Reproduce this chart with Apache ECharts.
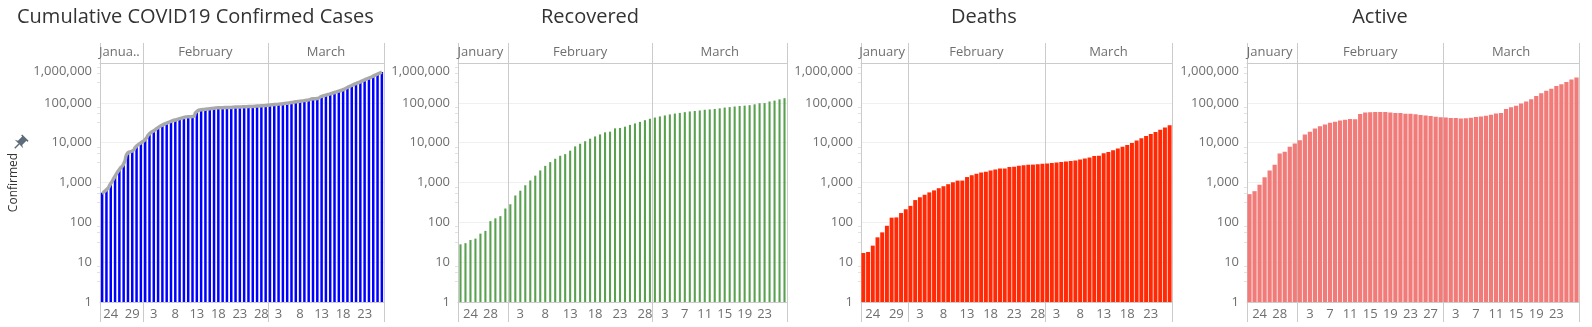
<!DOCTYPE html>
<html>
<head>
<meta charset="utf-8">
<title>Cumulative COVID19 cases</title>
<script src="https://cdn.jsdelivr.net/npm/echarts@6/dist/echarts.min.js"></script>
<style>
  html, body { margin: 0; padding: 0; background: #fff; }
  #main { width: 1592px; height: 327px; }
</style>
</head>
<body>
<div id="main"></div>
<script type="text/javascript">
// one bar per day, 22 Jan - 27 Mar 2020
var dates = [
  '2020-01-22','2020-01-23','2020-01-24','2020-01-25','2020-01-26','2020-01-27','2020-01-28','2020-01-29','2020-01-30','2020-01-31',
  '2020-02-01','2020-02-02','2020-02-03','2020-02-04','2020-02-05','2020-02-06','2020-02-07','2020-02-08','2020-02-09','2020-02-10',
  '2020-02-11','2020-02-12','2020-02-13','2020-02-14','2020-02-15','2020-02-16','2020-02-17','2020-02-18','2020-02-19','2020-02-20',
  '2020-02-21','2020-02-22','2020-02-23','2020-02-24','2020-02-25','2020-02-26','2020-02-27','2020-02-28','2020-02-29',
  '2020-03-01','2020-03-02','2020-03-03','2020-03-04','2020-03-05','2020-03-06','2020-03-07','2020-03-08','2020-03-09','2020-03-10',
  '2020-03-11','2020-03-12','2020-03-13','2020-03-14','2020-03-15','2020-03-16','2020-03-17','2020-03-18','2020-03-19','2020-03-20',
  '2020-03-21','2020-03-22','2020-03-23','2020-03-24','2020-03-25','2020-03-26','2020-03-27'
];

var confirmed = [
  555, 654, 941, 1434, 2118, 2927, 5578, 6166, 8234, 9927,
  12038, 16787, 19881, 23892, 27635, 30817, 34391, 37120, 40150, 42762,
  44802, 45221, 60368, 66885, 69030, 71224, 73258, 75136, 75639, 76197,
  76819, 78572, 78958, 79561, 80406, 81388, 82746, 84112, 86011,
  88369, 90306, 92840, 95120, 97886, 101801, 105847, 109821, 113590, 118620,
  125875, 128352, 145205, 156101, 167454, 181574, 197102, 214821, 242570, 272208,
  304507, 336953, 378231, 418041, 467653, 529591, 593291
];

var recovered = [
  28, 30, 36, 39, 52, 61, 107, 126, 143, 222,
  284, 472, 623, 852, 1124, 1487, 2011, 2616, 3244, 3946,
  4683, 5150, 6295, 8058, 9395, 10865, 12583, 14352, 16121, 18177,
  18890, 22886, 23394, 25227, 27905, 30384, 33277, 36711, 39782,
  42716, 45602, 48228, 51170, 53796, 55865, 58358, 60694, 62494, 64404,
  67003, 68324, 70251, 72624, 76034, 78088, 80840, 83312, 84975, 87420,
  91692, 97899, 98351, 107991, 113787, 122150, 130915
];

var deaths = [
  17, 18, 26, 42, 56, 82, 131, 133, 171, 213,
  259, 362, 426, 492, 564, 634, 719, 806, 906, 1013,
  1113, 1118, 1371, 1523, 1666, 1770, 1868, 2007, 2122, 2247,
  2251, 2458, 2469, 2629, 2708, 2770, 2814, 2872, 2941,
  2996, 3085, 3160, 3254, 3348, 3460, 3558, 3802, 3988, 4262,
  4615, 4720, 5404, 5819, 6440, 7126, 7905, 8733, 9867, 11299,
  12973, 14623, 16497, 18615, 21181, 23970, 27198
];

var active = [
  510, 606, 879, 1353, 2010, 2784, 5340, 5907, 7920, 9492,
  11495, 15953, 18832, 22548, 25947, 28696, 31661, 33698, 36000, 37803,
  39006, 38953, 52702, 57304, 57969, 58589, 58807, 58777, 57396, 55773,
  55678, 53228, 53095, 51705, 49793, 48234, 46655, 44529, 43288,
  42657, 41619, 41452, 40696, 40742, 42476, 43931, 45325, 47108, 49954,
  54257, 55308, 69550, 77658, 84980, 96360, 108357, 122776, 147728, 173489,
  199842, 224431, 263383, 291435, 332685, 383471, 435178
];

// day-number tick labels shown under each panel
var ticksEvery5 = ['2020-01-24','2020-01-29','2020-02-03','2020-02-08','2020-02-13','2020-02-18','2020-02-23','2020-02-28',
  '2020-03-03','2020-03-08','2020-03-13','2020-03-18','2020-03-23'];
var ticksRecovered = ['2020-01-24','2020-01-28','2020-02-03','2020-02-08','2020-02-13','2020-02-18','2020-02-23','2020-02-28',
  '2020-03-03','2020-03-07','2020-03-11','2020-03-15','2020-03-19','2020-03-23'];
var ticksActive = ['2020-01-24','2020-01-28','2020-02-03','2020-02-07','2020-02-11','2020-02-15','2020-02-19','2020-02-23','2020-02-27',
  '2020-03-03','2020-03-07','2020-03-11','2020-03-15','2020-03-19','2020-03-23'];

// month header labels, anchored on the middle day of each month
var monthAnchors = ['2020-01-26', '2020-02-15', '2020-03-14'];
var monthNames = ['January', 'February', 'March'];
var monthNamesShort = ['Janua..', 'February', 'March'];

var FONT = 'Open Sans';
var lineCol = '#cbcbcb';
var labelCol = '#6f6f6f';

var panels = [
  { title: 'Cumulative COVID19 Confirmed Cases', titleX: 17, titleAlign: 'left', data: confirmed, color: '#0000ff',
    left: 100, width: 284, gap: '42%', months: monthNamesShort, ticks: ticksEvery5, trend: true, yName: 'Confirmed' },
  { title: 'Recovered', titleX: 590, titleAlign: 'center', data: recovered, color: '#59a14f',
    left: 458, width: 329, gap: '58%', months: monthNames, ticks: ticksRecovered },
  { title: 'Deaths', titleX: 984, titleAlign: 'center', data: deaths, color: '#ff2a05',
    left: 861, width: 311, gap: '16%', months: monthNames, ticks: ticksEvery5 },
  { title: 'Active', titleX: 1380, titleAlign: 'center', data: active, color: '#f17b78',
    left: 1247, width: 332, gap: '16%', months: monthNames, ticks: ticksActive }
];

function thousands(v) {
  return String(Math.round(v)).replace(/\B(?=(\d{3})+(?!\d))/g, ',');
}
function monthEdge(i, v) {
  return i === 0 || v.slice(8) === '01';
}

var titles = [], grids = [], xAxes = [], yAxes = [], series = [];

panels.forEach(function (p) {
  titles.push({
    text: p.title, left: p.titleX, top: 7, padding: 0, textAlign: p.titleAlign,
    textStyle: { fontFamily: FONT, fontSize: 20, fontWeight: 'normal', color: '#333' }
  });

  var g = grids.length;
  grids.push({ left: p.left, width: p.width, top: 43, height: 20 });   // month header
  grids.push({ left: p.left, width: p.width, top: 63, height: 239 });  // bars
  grids.push({ left: p.left, width: p.width, top: 302, height: 20 });  // day footer

  var edgeLine = { show: true, interval: monthEdge, lineStyle: { color: lineCol, width: 1 } };

  // header and footer strips only carry the month separators
  [g, g + 2].forEach(function (gi) {
    xAxes.push({ type: 'category', gridIndex: gi, data: dates, axisLine: { show: false }, axisTick: { show: false },
      axisLabel: { show: false }, splitLine: edgeLine });
    yAxes.push({ type: 'value', gridIndex: gi, min: 0, max: 1, show: false });
  });

  var tickSet = {};
  p.ticks.forEach(function (d) { tickSet[d] = true; });

  var xBottom = xAxes.length;
  xAxes.push({
    type: 'category', gridIndex: g + 1, position: 'bottom', data: dates,
    axisLine: { lineStyle: { color: lineCol } }, axisTick: { show: false },
    axisLabel: {
      interval: function (i, v) { return !!tickSet[v]; },
      formatter: function (v) { return String(+v.slice(8)); },
      margin: 6, fontFamily: FONT, fontSize: 13, color: labelCol
    },
    splitLine: edgeLine
  });
  xAxes.push({
    type: 'category', gridIndex: g + 1, position: 'top', data: dates,
    axisLine: { lineStyle: { color: lineCol } }, axisTick: { show: false },
    axisLabel: {
      interval: function (i, v) { return monthAnchors.indexOf(v) >= 0; },
      formatter: function (v) { return p.months[monthAnchors.indexOf(v)]; },
      margin: 4, fontFamily: FONT, fontSize: 13, color: labelCol
    },
    splitLine: { show: false }
  });

  var yMain = yAxes.length;
  yAxes.push({
    type: 'log', logBase: 10, gridIndex: g + 1, min: 1, max: 1000000,
    name: p.yName || '', nameLocation: 'middle', nameGap: 80,
    nameTextStyle: { fontFamily: FONT, fontSize: 12, color: '#333' },
    axisLine: { show: false }, axisTick: { show: false },
    minorTick: { show: true, splitNumber: 4, length: 3, lineStyle: { color: '#e2e2e2' } },
    axisLabel: {
      margin: 8, fontFamily: FONT, fontSize: 13, color: labelCol,
      formatter: function (v) { return v >= 1000000 ? '{top|' + thousands(v) + '}' : thousands(v); },
      rich: { top: { padding: [16, 0, 0, 0], fontFamily: FONT, fontSize: 13, color: labelCol } }
    },
    splitLine: { lineStyle: { color: '#f0f0f0' } }
  });

  series.push({
    type: 'bar', xAxisIndex: xBottom, yAxisIndex: yMain, data: p.data,
    barCategoryGap: p.gap, itemStyle: { color: p.color }
  });
  if (p.trend) {
    series.push({
      type: 'line', xAxisIndex: xBottom, yAxisIndex: yMain, data: p.data,
      smooth: 0.8, showSymbol: false, z: 5,
      lineStyle: { color: '#a9a9a9', width: 3.5 }
    });
  }
});

var chart = echarts.init(document.getElementById('main'), null, { renderer: 'canvas' });
chart.setOption({
  animation: false,
  title: titles,
  grid: grids,
  xAxis: xAxes,
  yAxis: yAxes,
  series: series,
  graphic: [{
    // little pin next to the axis title, drawn pointing down then tilted
    type: 'group', x: 19, y: 144, rotation: -Math.PI / 4, scaleX: 1.5, scaleY: 1.5,
    children: [{
      type: 'polygon',
      shape: { points: [[-3, -6], [3, -6], [3, -5], [2, -5], [2, -1], [4, 0], [-4, 0], [-2, -1], [-2, -5], [-3, -5]] },
      style: { fill: '#5d6b7a' }
    }, {
      type: 'line', shape: { x1: 0, y1: 0, x2: 0, y2: 4 },
      style: { stroke: '#5d6b7a', lineWidth: 1 }
    }]
  }]
});
</script>
</body>
</html>
